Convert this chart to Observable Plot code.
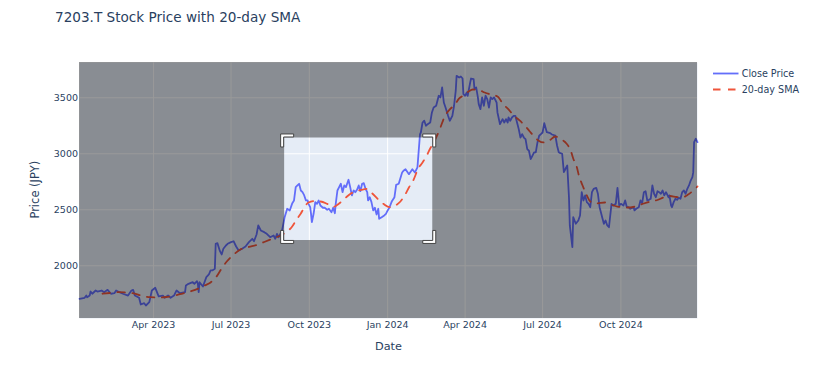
<!DOCTYPE html>
<html>
<head>
<meta charset="utf-8">
<script src="https://cdn.jsdelivr.net/npm/d3@7"></script>
<script src="https://cdn.jsdelivr.net/npm/@observablehq/plot@0.6"></script>
<style>
  html, body { margin: 0; padding: 0; background: #fff; }
  #wrap { position: relative; width: 826px; height: 373px; font-family: "DejaVu Sans", Verdana, sans-serif; }
  #wrap svg.overlay { position: absolute; left: 0; top: 0; pointer-events: none; }
</style>
</head>
<body>
<div id="wrap"></div>
<script>
// ---- data ----
const closeDates = ["2023-01-04","2023-01-10","2023-01-12","2023-01-13","2023-01-16","2023-01-17","2023-01-19","2023-01-23","2023-01-25","2023-01-30","2023-02-02","2023-02-06","2023-02-10","2023-02-14","2023-02-16","2023-02-20","2023-02-24","2023-03-02","2023-03-06","2023-03-08","2023-03-10","2023-03-15","2023-03-17","2023-03-21","2023-03-23","2023-03-27","2023-03-30","2023-04-03","2023-04-05","2023-04-07","2023-04-12","2023-04-14","2023-04-18","2023-04-21","2023-04-25","2023-04-28","2023-05-02","2023-05-08","2023-05-09","2023-05-12","2023-05-17","2023-05-19","2023-05-22","2023-05-23","2023-05-24","2023-05-25","2023-05-29","2023-06-02","2023-06-05","2023-06-07","2023-06-09","2023-06-12","2023-06-13","2023-06-15","2023-06-18","2023-06-20","2023-06-22","2023-06-25","2023-06-27","2023-07-01","2023-07-04","2023-07-07","2023-07-10","2023-07-14","2023-07-18","2023-07-22","2023-07-26","2023-07-28","2023-07-31","2023-08-02","2023-08-05","2023-08-09","2023-08-12","2023-08-16","2023-08-20","2023-08-22","2023-08-24","2023-08-26","2023-08-30","2023-09-02","2023-09-05","2023-09-08","2023-09-11","2023-09-13","2023-09-15","2023-09-17","2023-09-19","2023-09-21","2023-09-23","2023-09-25","2023-09-27","2023-09-29","2023-09-30","2023-10-02","2023-10-03","2023-10-04","2023-10-06","2023-10-08","2023-10-10","2023-10-12","2023-10-14","2023-10-17","2023-10-19","2023-10-22","2023-10-24","2023-10-27","2023-10-29","2023-10-31","2023-11-01","2023-11-03","2023-11-05","2023-11-07","2023-11-09","2023-11-11","2023-11-13","2023-11-15","2023-11-16","2023-11-18","2023-11-20","2023-11-22","2023-11-24","2023-11-26","2023-11-28","2023-11-30","2023-12-02","2023-12-04","2023-12-06","2023-12-08","2023-12-09","2023-12-11","2023-12-13","2023-12-15","2023-12-17","2023-12-19","2023-12-21","2023-12-22","2023-12-25","2023-12-28","2023-12-30","2024-01-01","2024-01-03","2024-01-06","2024-01-09","2024-01-11","2024-01-14","2024-01-18","2024-01-20","2024-01-22","2024-01-26","2024-01-30","2024-02-02","2024-02-05","2024-02-08","2024-02-09","2024-02-11","2024-02-13","2024-02-15","2024-02-17","2024-02-20","2024-02-22","2024-02-24","2024-02-27","2024-03-01","2024-03-03","2024-03-05","2024-03-07","2024-03-09","2024-03-12","2024-03-14","2024-03-17","2024-03-19","2024-03-21","2024-03-22","2024-03-25","2024-03-27","2024-03-29","2024-03-30","2024-04-01","2024-04-03","2024-04-04","2024-04-07","2024-04-08","2024-04-11","2024-04-12","2024-04-14","2024-04-16","2024-04-17","2024-04-19","2024-04-21","2024-04-23","2024-04-25","2024-04-27","2024-04-29","2024-05-01","2024-05-03","2024-05-05","2024-05-08","2024-05-09","2024-05-12","2024-05-15","2024-05-17","2024-05-19","2024-05-21","2024-05-22","2024-05-24","2024-05-26","2024-05-28","2024-05-30","2024-06-01","2024-06-03","2024-06-05","2024-06-07","2024-06-09","2024-06-11","2024-06-13","2024-06-15","2024-06-17","2024-06-19","2024-06-21","2024-06-23","2024-06-25","2024-06-27","2024-06-29","2024-07-01","2024-07-03","2024-07-06","2024-07-10","2024-07-12","2024-07-16","2024-07-18","2024-07-20","2024-07-22","2024-07-24","2024-07-26","2024-07-28","2024-07-30","2024-08-01","2024-08-02","2024-08-05","2024-08-06","2024-08-09","2024-08-12","2024-08-14","2024-08-16","2024-08-18","2024-08-20","2024-08-22","2024-08-24","2024-08-26","2024-08-28","2024-08-30","2024-09-02","2024-09-04","2024-09-06","2024-09-09","2024-09-11","2024-09-13","2024-09-15","2024-09-17","2024-09-20","2024-09-22","2024-09-25","2024-09-27","2024-09-29","2024-10-01","2024-10-04","2024-10-06","2024-10-08","2024-10-10","2024-10-12","2024-10-16","2024-10-17","2024-10-19","2024-10-22","2024-10-24","2024-10-26","2024-10-28","2024-10-30","2024-11-01","2024-11-03","2024-11-05","2024-11-07","2024-11-09","2024-11-11","2024-11-13","2024-11-15","2024-11-17","2024-11-19","2024-11-21","2024-11-23","2024-11-26","2024-11-27","2024-11-29","2024-11-30","2024-12-02","2024-12-04","2024-12-06","2024-12-08","2024-12-10","2024-12-12","2024-12-14","2024-12-16","2024-12-18","2024-12-20","2024-12-22","2024-12-24","2024-12-25","2024-12-26","2024-12-28","2024-12-30"];
const closeValues = [1705,1714,1734,1719,1734,1770,1750,1779,1770,1779,1764,1785,1750,1755,1779,1764,1750,1734,1779,1785,1734,1714,1654,1666,1645,1675,1779,1803,1764,1726,1734,1714,1734,1714,1734,1779,1755,1764,1824,1839,1853,1839,1862,1839,1764,1853,1815,1898,1922,1958,1958,1973,2196,2202,2130,2101,2152,2181,2196,2211,2219,2172,2136,2152,2172,2211,2241,2219,2279,2360,2315,2300,2285,2255,2270,2241,2285,2255,2315,2434,2509,2494,2559,2583,2702,2717,2732,2672,2657,2628,2583,2583,2553,2523,2464,2389,2464,2568,2553,2583,2538,2518,2518,2500,2509,2478,2518,2469,2553,2672,2702,2732,2657,2717,2702,2746,2768,2702,2628,2672,2657,2678,2717,2666,2732,2737,2687,2657,2583,2612,2568,2494,2518,2458,2509,2419,2434,2449,2464,2494,2518,2577,2612,2723,2732,2833,2851,2862,2818,2862,2833,2878,3175,3190,3279,3295,3250,3264,3279,3369,3413,3429,3518,3503,3592,3458,3413,3339,3295,3339,3429,3563,3696,3681,3690,3672,3532,3518,3547,3518,3637,3672,3666,3577,3592,3503,3443,3398,3503,3429,3518,3488,3413,3503,3488,3503,3458,3369,3264,3309,3279,3309,3279,3324,3295,3324,3339,3339,3279,3220,3145,3175,3145,3130,3041,3027,2952,2982,3012,3012,3101,3161,3175,3190,3273,3193,3184,3172,3163,3074,3014,3005,3000,2836,2866,2895,2612,2360,2166,2434,2375,2404,2449,2657,2583,2628,2568,2553,2523,2657,2687,2696,2643,2523,2434,2375,2404,2360,2344,2553,2538,2553,2696,2538,2553,2538,2583,2523,2523,2509,2523,2494,2509,2523,2583,2559,2657,2666,2583,2589,2598,2717,2643,2612,2666,2657,2643,2672,2628,2657,2612,2628,2538,2523,2568,2598,2589,2607,2598,2657,2672,2643,2687,2717,2761,2791,2836,3104,3134,3104];

const smaDates = ["2023-01-31","2023-02-09","2023-02-19","2023-02-28","2023-03-10","2023-03-19","2023-03-28","2023-04-07","2023-04-16","2023-04-26","2023-05-05","2023-05-14","2023-05-24","2023-05-31","2023-06-07","2023-06-14","2023-06-20","2023-06-26","2023-07-03","2023-07-12","2023-07-22","2023-07-31","2023-08-09","2023-08-18","2023-08-28","2023-09-04","2023-09-10","2023-09-16","2023-09-21","2023-09-25","2023-09-30","2023-10-07","2023-10-14","2023-10-21","2023-10-29","2023-11-05","2023-11-13","2023-11-18","2023-11-24","2023-12-01","2023-12-07","2023-12-14","2023-12-21","2023-12-28","2024-01-03","2024-01-10","2024-01-16","2024-01-21","2024-01-26","2024-01-31","2024-02-06","2024-02-11","2024-02-16","2024-02-20","2024-02-26","2024-03-03","2024-03-08","2024-03-14","2024-03-20","2024-03-25","2024-03-30","2024-04-05","2024-04-10","2024-04-17","2024-04-24","2024-05-01","2024-05-09","2024-05-16","2024-05-22","2024-05-28","2024-06-04","2024-06-10","2024-06-16","2024-06-20","2024-06-26","2024-07-02","2024-07-09","2024-07-16","2024-07-23","2024-07-29","2024-08-03","2024-08-06","2024-08-10","2024-08-13","2024-08-17","2024-08-22","2024-08-26","2024-09-02","2024-09-12","2024-09-19","2024-09-27","2024-10-05","2024-10-12","2024-10-21","2024-10-28","2024-11-05","2024-11-13","2024-11-20","2024-11-28","2024-12-05","2024-12-12","2024-12-19","2024-12-25","2024-12-30"];
const smaValues = [1750,1757,1764,1761,1752,1730,1719,1717,1721,1734,1752,1770,1797,1824,1851,1904,1976,2038,2092,2145,2168,2186,2212,2239,2270,2302,2342,2413,2467,2520,2565,2578,2574,2556,2525,2556,2610,2641,2663,2677,2686,2645,2592,2547,2523,2538,2574,2628,2699,2761,2869,2922,2985,3047,3128,3235,3333,3396,3440,3494,3521,3556,3574,3570,3547,3529,3512,3440,3396,3342,3298,3253,3199,3163,3119,3101,3119,3154,3128,3092,3030,2958,2887,2797,2717,2628,2574,2556,2565,2547,2529,2520,2520,2538,2556,2574,2587,2610,2623,2614,2610,2636,2672,2708];

const xTickDates = ["2023-04-01","2023-07-01","2023-10-01","2024-01-01","2024-04-01","2024-07-01","2024-10-01"];
const yTickValues = [2000, 2500, 3000, 3500];
const seriesNames = ["Close Price", "20-day SMA"];
const selectionX = ["2023-09-02", "2024-02-23"];
const selectionY = [2226, 3141];

// ---- build tables ----
const closeData = closeDates.map((d, i) => ({date: new Date(d), value: closeValues[i]}));
const smaData = smaDates.map((d, i) => ({date: new Date(d), value: smaValues[i]}));
const xTicks = xTickDates.map(d => new Date(d));

const BLUE = "#636efa", RED = "#ef553b", TXT = "#2a3f5f";

// zoom-box overlay drawn through the plot's scales
function zoomOverlay(...args) {
  const scales = args.find(a => a && typeof a.x === "function" && typeof a.y === "function");
  const dims = args.find(a => a && a.marginLeft !== undefined && a.width !== undefined);
  const L = dims.marginLeft, R = dims.width - dims.marginRight;
  const T = dims.marginTop, B = dims.height - dims.marginBottom;
  const l = scales.x(new Date(selectionX[0])), r = scales.x(new Date(selectionX[1]));
  const t = scales.y(selectionY[1]), b = scales.y(selectionY[0]);
  const g = d3.create("svg:g");
  g.append("path")
    .attr("d", `M${L},${T}H${R}V${B}H${L}Z M${l},${t}H${r}V${b}H${l}Z`)
    .attr("fill", "rgba(0,0,0,0.4)")
    .attr("fill-rule", "evenodd");
  const w = 10;
  const c =
    `M${l-3.5},${t-0.5+w}h3v${-w}h${w}v-3h${-(w+3)}Z` +
    `M${r+3.5},${t-0.5+w}h-3v${-w}h${-w}v-3h${w+3}Z` +
    `M${r+3.5},${b+0.5-w}h-3v${w}h${-w}v3h${w+3}Z` +
    `M${l-3.5},${b+0.5-w}h3v${w}h${w}v3h${-(w+3)}Z`;
  g.append("path").attr("d", c).attr("fill", "#fff").attr("stroke", "#444").attr("stroke-width", 1);
  return g.node();
}

const plot = Plot.plot({
  width: 826,
  height: 373,
  marginLeft: 79,
  marginRight: 129,
  marginTop: 62,
  marginBottom: 55,
  style: {fontFamily: "'DejaVu Sans', Verdana, sans-serif", fontSize: "9.5px", color: TXT, background: "#fff", overflow: "visible"},
  x: {type: "utc", domain: [new Date(closeDates[0]), new Date(closeDates[closeDates.length - 1])],
      ticks: xTicks, tickFormat: d3.utcFormat("%b %Y"), tickSize: 0, tickPadding: 3, label: null},
  y: {domain: [1529, 3815], ticks: yTickValues, tickFormat: d => String(d), tickSize: 0, tickPadding: 1.5, label: null},
  marks: [
    Plot.frame({fill: "#e5ecf6", stroke: "none"}),
    Plot.ruleX(xTicks, {stroke: "#fff", strokeWidth: 1}),
    Plot.ruleY(yTickValues, {stroke: "#fff", strokeWidth: 1}),
    Plot.line(closeData, {x: "date", y: "value", stroke: BLUE, strokeWidth: 1.8, strokeLinejoin: "round"}),
    Plot.line(smaData, {x: "date", y: "value", stroke: RED, strokeWidth: 1.8, strokeDasharray: "7.5,7.5", curve: "monotone-x"}),
    zoomOverlay
  ]
});

const wrap = document.getElementById("wrap");
wrap.appendChild(plot);

// title, axis titles and legend as real text
const ov = d3.select(wrap).append("svg")
  .attr("class", "overlay").attr("width", 826).attr("height", 373)
  .style("font-family", "'DejaVu Sans', Verdana, sans-serif").style("fill", TXT);
ov.append("text").attr("x", 55).attr("y", 22).attr("font-size", "13.6px").attr("fill", TXT)
  .text("7203.T Stock Price with 20-day SMA");
ov.append("text").attr("x", 388.5).attr("y", 350).attr("text-anchor", "middle").attr("font-size", "11.3px").attr("fill", TXT)
  .text("Date");
ov.append("text").attr("transform", "translate(39,189.7) rotate(-90)").attr("text-anchor", "middle").attr("font-size", "11.5px").attr("fill", TXT)
  .text("Price (JPY)");
const leg = ov.append("g");
[[BLUE, null, 73.5], [RED, "7.5,7.5", 89.5]].forEach(([col, dash, y], i) => {
  const ln = leg.append("line").attr("x1", 713).attr("x2", 738.5).attr("y1", y).attr("y2", y)
    .attr("stroke", col).attr("stroke-width", 1.8);
  if (dash) ln.attr("stroke-dasharray", dash);
  leg.append("text").attr("x", 741.7).attr("y", y + 3.4).attr("font-size", "9.6px").attr("fill", TXT).text(seriesNames[i]);
});
</script>
</body>
</html>
